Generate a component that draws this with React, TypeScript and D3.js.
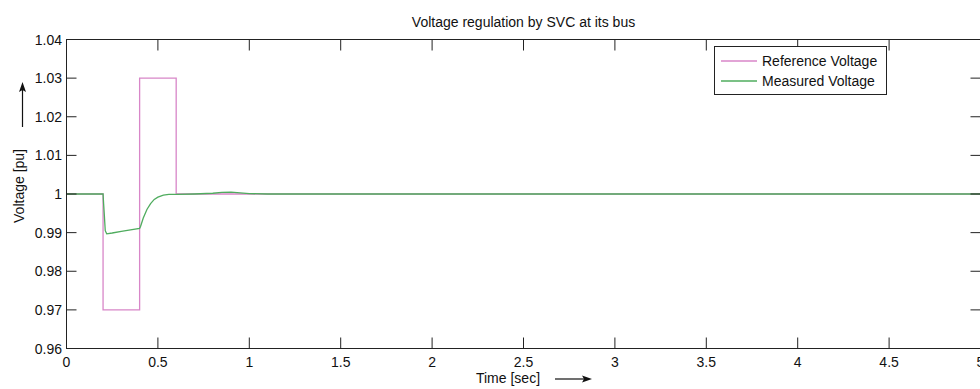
import * as d3 from "d3";

// reference (set point) voltage, stepwise
const refTime = [0, 0.2, 0.4, 0.6, 5];
const refVolt = [1.0, 0.97, 1.03, 1.0, 1.0];

// measured voltage at the SVC bus
const measTime = [0, 0.2, 0.203, 0.207, 0.212, 0.22, 0.25, 0.3, 0.35, 0.4, 0.405, 0.42, 0.44, 0.46, 0.48, 0.5, 0.53, 0.56, 0.6, 0.7, 0.8, 0.85, 0.9, 0.95, 1.0, 1.1, 5];
const measVolt = [1.0, 1.0, 0.9975, 0.9945, 0.9905, 0.9897, 0.9899, 0.9903, 0.9907, 0.9911, 0.9916, 0.9938, 0.996, 0.9975, 0.9986, 0.9992, 0.9997, 0.9999, 0.9999, 1.0, 1.0002, 1.0004, 1.0005, 1.0003, 1.0001, 1.0, 1.0];

const xTicks = [0, 0.5, 1, 1.5, 2, 2.5, 3, 3.5, 4, 4.5, 5];
const yTicks = [0.96, 0.97, 0.98, 0.99, 1.0, 1.01, 1.02, 1.03, 1.04];

const W = 980;
const H = 389;
const left = 66.5, right = 980.5, top = 39.5, bottom = 348.5;
const font = "'Liberation Sans', Arial, sans-serif";
const refColor = "#d886c8";
const measColor = "#4fac5e";

export default function App() {
  const x = d3.scaleLinear().domain([0, 5]).range([left, right]);
  const y = d3.scaleLinear().domain([0.96, 1.04]).range([bottom, top]);

  const refLine = d3
    .line<number>()
    .x((_, i) => x(refTime[i]))
    .y((d) => y(d))
    .curve(d3.curveStepAfter);
  const measLine = d3
    .line<number>()
    .x((_, i) => x(measTime[i]))
    .y((d) => y(d));

  const tick = 10;
  const fmt = (v: number) => String(+v.toFixed(2));

  return (
    <svg width={W} height={H} style={{ position: "absolute", left: 0, top: 0, background: "#fff" }} fontFamily={font}>
      <rect x={0} y={0} width={W} height={H} fill="#fff" />

      {/* data */}
      <path d={refLine(refVolt) || ""} fill="none" stroke={refColor} strokeWidth={1.3} />
      <path d={measLine(measVolt) || ""} fill="none" stroke={measColor} strokeWidth={1.3} />

      {/* axes box */}
      <rect x={left} y={top} width={right - left} height={bottom - top} fill="none" stroke="#222" strokeWidth={1} />

      {xTicks.map((t) => (
        <g key={"x" + t}>
          <line x1={x(t)} x2={x(t)} y1={bottom} y2={bottom - tick - 1} stroke="#222" />
          <line x1={x(t)} x2={x(t)} y1={top} y2={top + tick + 1} stroke="#222" />
          <text x={x(t)} y={367} fontSize={14} textAnchor="middle" fill="#111">
            {fmt(t)}
          </text>
        </g>
      ))}
      {yTicks.map((v) => (
        <g key={"y" + v}>
          <line x1={left} x2={left + tick} y1={y(v)} y2={y(v)} stroke="#222" />
          <line x1={right} x2={right - tick} y1={y(v)} y2={y(v)} stroke="#222" />
          <text x={62} y={y(v)} dy="0.36em" fontSize={14} textAnchor="end" fill="#111">
            {fmt(v)}
          </text>
        </g>
      ))}

      {/* title */}
      <text x={(left + right) / 2} y={27} fontSize={14} textAnchor="middle" fill="#111">
        Voltage regulation by SVC at its bus
      </text>

      {/* x label + arrow */}
      <text x={508} y={383} fontSize={14} textAnchor="middle" fill="#111">
        Time [sec]
      </text>
      <line x1={555} x2={584} y1={379} y2={379} stroke="#111" strokeWidth={1.2} />
      <path d="M592,379 L582,375.5 L584,379 L582,382.5 Z" fill="#111" />

      {/* y label + arrow */}
      <text transform="translate(24,186) rotate(-90)" fontSize={14} textAnchor="middle" fill="#111">
        Voltage [pu]
      </text>
      <line x1={22.5} x2={22.5} y1={127} y2={90} stroke="#111" strokeWidth={1.2} />
      <path d="M22.5,82 L19,92 L22.5,90 L26,92 Z" fill="#111" />

      {/* legend */}
      <rect x={714.5} y={46.5} width={172} height={48} fill="#fff" stroke="#222" />
      <line x1={721} x2={757} y1={61} y2={61} stroke={refColor} strokeWidth={1.3} />
      <line x1={721} x2={757} y1={81} y2={81} stroke={measColor} strokeWidth={1.3} />
      <text x={762} y={61} dy="0.36em" fontSize={14} fill="#111">
        Reference Voltage
      </text>
      <text x={762} y={81} dy="0.36em" fontSize={14} fill="#111">
        Measured Voltage
      </text>
    </svg>
  );
}
